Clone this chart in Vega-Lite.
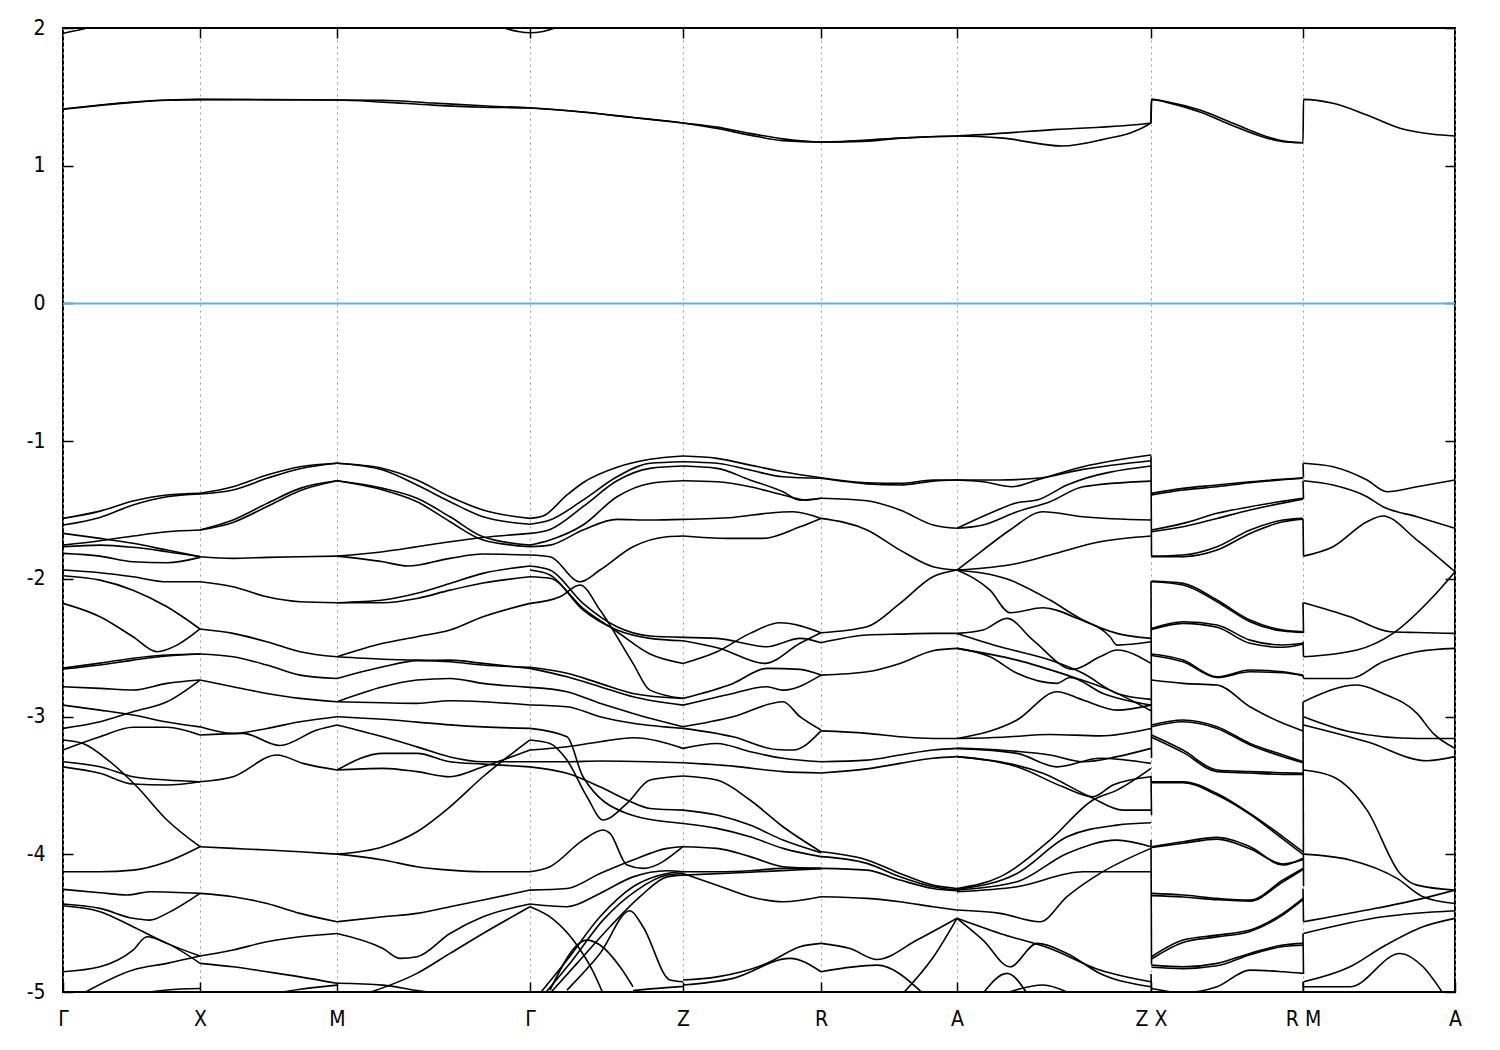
{
"$schema": "https://vega.github.io/schema/vega-lite/v6.json",
"width": 1392, "height": 964,
"autosize": {"type": "none"},
"padding": {"left": 63, "top": 28, "right": 45, "bottom": 58},
"background": "white",
"config": {"view": {"stroke": "black", "strokeWidth": 2}},
"datasets": {
"bands": [
{"b":"c1","k":0,"e":1.412},{"b":"c1","k":37,"e":1.441},{"b":"c1","k":70,"e":1.463},{"b":"c1","k":104,"e":1.477},{"b":"c1","k":137,"e":1.482},{"b":"c1","k":204,"e":1.48},{"b":"c1","k":274,"e":1.477},{"b":"c1","k":320,"e":1.475},{"b":"c1","k":370,"e":1.455},{"b":"c1","k":420,"e":1.435},{"b":"c1","k":467,"e":1.419},{"b":"c1","k":520,"e":1.39},{"b":"c1","k":570,"e":1.35},{"b":"c1","k":620,"e":1.31},{"b":"c1","k":654,"e":1.28},{"b":"c1","k":687,"e":1.235},{"b":"c1","k":720,"e":1.195},{"b":"c1","k":758,"e":1.172},{"b":"c1","k":800,"e":1.177},{"b":"c1","k":837,"e":1.2},{"b":"c1","k":894,"e":1.216},{"b":"c1","k":990,"e":1.262},{"b":"c1","k":1088,"e":1.31},{"b":"c1","k":1088.5,"e":1.482},{"b":"c1","k":1104,"e":1.465},{"b":"c1","k":1137,"e":1.404},{"b":"c1","k":1170,"e":1.308},{"b":"c1","k":1204,"e":1.211},{"b":"c1","k":1224,"e":1.175},{"b":"c1","k":1240,"e":1.167},{"b":"c1","k":1240.5,"e":1.482},{"b":"c1","k":1270,"e":1.453},{"b":"c1","k":1304,"e":1.368},{"b":"c1","k":1337,"e":1.272},{"b":"c1","k":1370,"e":1.228},{"b":"c1","k":1392,"e":1.216},
{"b":"c2","k":0,"e":1.41},{"b":"c2","k":37,"e":1.438},{"b":"c2","k":70,"e":1.46},{"b":"c2","k":104,"e":1.475},{"b":"c2","k":137,"e":1.48},{"b":"c2","k":274,"e":1.477},{"b":"c2","k":320,"e":1.462},{"b":"c2","k":370,"e":1.44},{"b":"c2","k":420,"e":1.425},{"b":"c2","k":467,"e":1.419},{"b":"c2","k":570,"e":1.35},{"b":"c2","k":620,"e":1.31},{"b":"c2","k":654,"e":1.27},{"b":"c2","k":687,"e":1.222},{"b":"c2","k":720,"e":1.182},{"b":"c2","k":758,"e":1.172},{"b":"c2","k":837,"e":1.2},{"b":"c2","k":894,"e":1.216},{"b":"c2","k":940,"e":1.2},{"b":"c2","k":999,"e":1.143},{"b":"c2","k":1037,"e":1.186},{"b":"c2","k":1088,"e":1.31},{"b":"c2","k":1088.5,"e":1.482},{"b":"c2","k":1104,"e":1.46},{"b":"c2","k":1137,"e":1.39},{"b":"c2","k":1170,"e":1.29},{"b":"c2","k":1204,"e":1.2},{"b":"c2","k":1224,"e":1.172},{"b":"c2","k":1240,"e":1.167},
{"b":"c3","k":0,"e":1.962},{"b":"c3","k":12,"e":1.98},{"b":"c3","k":24,"e":2.0},{"b":"c3","k":40,"e":2.04},
{"b":"c4","k":430,"e":2.05},{"b":"c4","k":442,"e":2.0},{"b":"c4","k":455,"e":1.975},{"b":"c4","k":467,"e":1.965},{"b":"c4","k":480,"e":1.975},{"b":"c4","k":492,"e":2.0},{"b":"c4","k":505,"e":2.04},

{"b":"1a","k":0,"e":-1.561},{"b":"1a","k":37,"e":-1.508},{"b":"1a","k":70,"e":-1.435},{"b":"1a","k":104,"e":-1.391},{"b":"1a","k":137,"e":-1.379},
{"b":"1b","k":0,"e":-1.609},{"b":"1b","k":37,"e":-1.554},{"b":"1b","k":70,"e":-1.464},{"b":"1b","k":104,"e":-1.404},{"b":"1b","k":137,"e":-1.384},
{"b":"1c","k":0,"e":-1.755},{"b":"1c","k":37,"e":-1.723},{"b":"1c","k":70,"e":-1.689},{"b":"1c","k":104,"e":-1.658},{"b":"1c","k":137,"e":-1.645},
{"b":"1d","k":0,"e":-1.67},{"b":"1d","k":37,"e":-1.706},{"b":"1d","k":70,"e":-1.742},{"b":"1d","k":104,"e":-1.791},{"b":"1d","k":137,"e":-1.839},
{"b":"1e","k":0,"e":-1.767},{"b":"1e","k":37,"e":-1.755},{"b":"1e","k":70,"e":-1.771},{"b":"1e","k":104,"e":-1.803},{"b":"1e","k":137,"e":-1.839},
{"b":"1f","k":0,"e":-1.815},{"b":"1f","k":37,"e":-1.835},{"b":"1f","k":70,"e":-1.876},{"b":"1f","k":104,"e":-1.883},{"b":"1f","k":137,"e":-1.844},
{"b":"1g","k":0,"e":-1.936},{"b":"1g","k":37,"e":-1.956},{"b":"1g","k":70,"e":-1.985},{"b":"1g","k":104,"e":-2.021},{"b":"1g","k":137,"e":-2.021},
{"b":"1h","k":0,"e":-1.977},{"b":"1h","k":37,"e":-2.009},{"b":"1h","k":70,"e":-2.082},{"b":"1h","k":104,"e":-2.203},{"b":"1h","k":137,"e":-2.364},
{"b":"1i","k":0,"e":-2.178},{"b":"1i","k":37,"e":-2.275},{"b":"1i","k":70,"e":-2.42},{"b":"1i","k":94,"e":-2.529},{"b":"1i","k":114,"e":-2.481},{"b":"1i","k":137,"e":-2.364},
{"b":"1j","k":0,"e":-2.648},{"b":"1j","k":37,"e":-2.612},{"b":"1j","k":70,"e":-2.576},{"b":"1j","k":104,"e":-2.553},{"b":"1j","k":137,"e":-2.546},
{"b":"1k","k":0,"e":-2.655},{"b":"1k","k":37,"e":-2.625},{"b":"1k","k":70,"e":-2.59},{"b":"1k","k":104,"e":-2.56},{"b":"1k","k":137,"e":-2.546},
{"b":"1l","k":0,"e":-2.783},{"b":"1l","k":37,"e":-2.795},{"b":"1l","k":70,"e":-2.807},{"b":"1l","k":104,"e":-2.759},{"b":"1l","k":137,"e":-2.735},
{"b":"1m","k":0,"e":-2.917},{"b":"1m","k":37,"e":-2.953},{"b":"1m","k":70,"e":-2.989},{"b":"1m","k":104,"e":-3.04},{"b":"1m","k":137,"e":-3.075},
{"b":"1n","k":0,"e":-3.086},{"b":"1n","k":37,"e":-3.038},{"b":"1n","k":70,"e":-2.965},{"b":"1n","k":104,"e":-2.893},{"b":"1n","k":137,"e":-2.735},
{"b":"1o","k":0,"e":-3.17},{"b":"1o","k":20,"e":-3.195},{"b":"1o","k":47,"e":-3.328},{"b":"1o","k":74,"e":-3.51},{"b":"1o","k":104,"e":-3.751},{"b":"1o","k":137,"e":-3.945},
{"b":"1p","k":0,"e":-3.243},{"b":"1p","k":37,"e":-3.147},{"b":"1p","k":70,"e":-3.078},{"b":"1p","k":104,"e":-3.078},{"b":"1p","k":137,"e":-3.134},
{"b":"1q","k":0,"e":-3.328},{"b":"1q","k":37,"e":-3.365},{"b":"1q","k":70,"e":-3.437},{"b":"1q","k":104,"e":-3.461},{"b":"1q","k":137,"e":-3.473},
{"b":"1r","k":0,"e":-3.365},{"b":"1r","k":37,"e":-3.412},{"b":"1r","k":70,"e":-3.49},{"b":"1r","k":104,"e":-3.497},{"b":"1r","k":137,"e":-3.473},
{"b":"1s","k":0,"e":-4.127},{"b":"1s","k":37,"e":-4.127},{"b":"1s","k":70,"e":-4.115},{"b":"1s","k":104,"e":-4.054},{"b":"1s","k":137,"e":-3.945},
{"b":"1t","k":0,"e":-4.255},{"b":"1t","k":37,"e":-4.279},{"b":"1t","k":64,"e":-4.296},{"b":"1t","k":87,"e":-4.272},{"b":"1t","k":137,"e":-4.284},
{"b":"1u","k":0,"e":-4.361},{"b":"1u","k":37,"e":-4.393},{"b":"1u","k":70,"e":-4.465},{"b":"1u","k":87,"e":-4.478},{"b":"1u","k":104,"e":-4.429},{"b":"1u","k":137,"e":-4.284},
{"b":"1v","k":0,"e":-4.374},{"b":"1v","k":37,"e":-4.417},{"b":"1v","k":70,"e":-4.526},{"b":"1v","k":104,"e":-4.647},{"b":"1v","k":137,"e":-4.739},
{"b":"1w","k":0,"e":-4.853},{"b":"1w","k":37,"e":-4.817},{"b":"1w","k":70,"e":-4.696},{"b":"1w","k":84,"e":-4.599},{"b":"1w","k":104,"e":-4.647},{"b":"1w","k":137,"e":-4.792},
{"b":"1x","k":20,"e":-5.01},{"b":"1x","k":70,"e":-4.84},{"b":"1x","k":104,"e":-4.792},{"b":"1x","k":137,"e":-4.739},
{"b":"1y","k":70,"e":-5.02},{"b":"1y","k":104,"e":-4.985},{"b":"1y","k":137,"e":-4.975},

{"b":"2a","k":137,"e":-1.379},{"b":"2a","k":170,"e":-1.331},{"b":"2a","k":204,"e":-1.246},{"b":"2a","k":237,"e":-1.186},{"b":"2a","k":274,"e":-1.161},
{"b":"2a2","k":137,"e":-1.384},{"b":"2a2","k":170,"e":-1.355},{"b":"2a2","k":204,"e":-1.27},{"b":"2a2","k":237,"e":-1.2},{"b":"2a2","k":274,"e":-1.161},
{"b":"2b","k":137,"e":-1.645},{"b":"2b","k":170,"e":-1.573},{"b":"2b","k":204,"e":-1.452},{"b":"2b","k":237,"e":-1.343},{"b":"2b","k":274,"e":-1.288},
{"b":"2b2","k":137,"e":-1.645},{"b":"2b2","k":170,"e":-1.59},{"b":"2b2","k":204,"e":-1.475},{"b":"2b2","k":237,"e":-1.36},{"b":"2b2","k":274,"e":-1.288},
{"b":"2c","k":137,"e":-1.839},{"b":"2c","k":170,"e":-1.851},{"b":"2c","k":204,"e":-1.844},{"b":"2c","k":237,"e":-1.839},{"b":"2c","k":274,"e":-1.835},
{"b":"2d","k":137,"e":-2.021},{"b":"2d","k":170,"e":-2.057},{"b":"2d","k":204,"e":-2.13},{"b":"2d","k":237,"e":-2.166},{"b":"2d","k":274,"e":-2.173},
{"b":"2e","k":137,"e":-2.364},{"b":"2e","k":170,"e":-2.396},{"b":"2e","k":204,"e":-2.457},{"b":"2e","k":237,"e":-2.529},{"b":"2e","k":274,"e":-2.566},
{"b":"2f","k":137,"e":-2.546},{"b":"2f","k":170,"e":-2.566},{"b":"2f","k":204,"e":-2.626},{"b":"2f","k":237,"e":-2.699},{"b":"2f","k":274,"e":-2.723},
{"b":"2g","k":137,"e":-2.735},{"b":"2g","k":170,"e":-2.783},{"b":"2g","k":204,"e":-2.832},{"b":"2g","k":237,"e":-2.868},{"b":"2g","k":274,"e":-2.892},
{"b":"2h","k":137,"e":-3.074},{"b":"2h","k":170,"e":-3.122},{"b":"2h","k":204,"e":-3.086},{"b":"2h","k":237,"e":-3.038},{"b":"2h","k":274,"e":-3.001},
{"b":"2i","k":137,"e":-3.134},{"b":"2i","k":180,"e":-3.122},{"b":"2i","k":217,"e":-3.21},{"b":"2i","k":254,"e":-3.097},{"b":"2i","k":274,"e":-3.061},
{"b":"2j","k":137,"e":-3.473},{"b":"2j","k":170,"e":-3.437},{"b":"2j","k":214,"e":-3.279},{"b":"2j","k":240,"e":-3.34},{"b":"2j","k":274,"e":-3.388},
{"b":"2k","k":137,"e":-3.945},{"b":"2k","k":170,"e":-3.957},{"b":"2k","k":204,"e":-3.969},{"b":"2k","k":237,"e":-3.982},{"b":"2k","k":274,"e":-3.999},
{"b":"2l","k":137,"e":-4.284},{"b":"2l","k":170,"e":-4.308},{"b":"2l","k":204,"e":-4.357},{"b":"2l","k":237,"e":-4.429},{"b":"2l","k":274,"e":-4.49},
{"b":"2m","k":137,"e":-4.739},{"b":"2m","k":170,"e":-4.695},{"b":"2m","k":204,"e":-4.635},{"b":"2m","k":237,"e":-4.599},{"b":"2m","k":274,"e":-4.575},
{"b":"2n","k":137,"e":-4.792},{"b":"2n","k":170,"e":-4.817},{"b":"2n","k":204,"e":-4.853},{"b":"2n","k":237,"e":-4.89},{"b":"2n","k":274,"e":-4.937},
{"b":"2o","k":204,"e":-5.02},{"b":"2o","k":237,"e":-4.98},{"b":"2o","k":274,"e":-4.95},

{"b":"3a","k":274,"e":-1.161},{"b":"3a","k":320,"e":-1.198},{"b":"3a","k":354,"e":-1.282},{"b":"3a","k":387,"e":-1.404},{"b":"3a","k":420,"e":-1.5},{"b":"3a","k":467,"e":-1.561},
{"b":"3b","k":274,"e":-1.161},{"b":"3b","k":320,"e":-1.21},{"b":"3b","k":354,"e":-1.319},{"b":"3b","k":387,"e":-1.44},{"b":"3b","k":420,"e":-1.549},{"b":"3b","k":467,"e":-1.604},
{"b":"3c","k":274,"e":-1.288},{"b":"3c","k":320,"e":-1.343},{"b":"3c","k":354,"e":-1.415},{"b":"3c","k":387,"e":-1.549},{"b":"3c","k":420,"e":-1.694},{"b":"3c","k":467,"e":-1.755},
{"b":"3d","k":274,"e":-1.288},{"b":"3d","k":320,"e":-1.355},{"b":"3d","k":354,"e":-1.44},{"b":"3d","k":387,"e":-1.585},{"b":"3d","k":420,"e":-1.718},{"b":"3d","k":467,"e":-1.767},
{"b":"3e","k":274,"e":-1.835},{"b":"3e","k":320,"e":-1.876},{"b":"3e","k":345,"e":-1.907},{"b":"3e","k":387,"e":-1.851},{"b":"3e","k":420,"e":-1.82},{"b":"3e","k":467,"e":-1.827},
{"b":"3f","k":274,"e":-1.835},{"b":"3f","k":320,"e":-1.803},{"b":"3f","k":354,"e":-1.767},{"b":"3f","k":387,"e":-1.731},{"b":"3f","k":420,"e":-1.7},{"b":"3f","k":467,"e":-1.67},
{"b":"3g","k":274,"e":-2.173},{"b":"3g","k":320,"e":-2.154},{"b":"3g","k":354,"e":-2.105},{"b":"3g","k":387,"e":-2.033},{"b":"3g","k":420,"e":-1.96},{"b":"3g","k":467,"e":-1.907},
{"b":"3h","k":274,"e":-2.173},{"b":"3h","k":320,"e":-2.173},{"b":"3h","k":354,"e":-2.142},{"b":"3h","k":387,"e":-2.082},{"b":"3h","k":420,"e":-2.03},{"b":"3h","k":467,"e":-1.985},
{"b":"3i","k":274,"e":-2.566},{"b":"3i","k":320,"e":-2.468},{"b":"3i","k":354,"e":-2.42},{"b":"3i","k":387,"e":-2.372},{"b":"3i","k":420,"e":-2.275},{"b":"3i","k":467,"e":-2.178},
{"b":"3j","k":274,"e":-2.566},{"b":"3j","k":320,"e":-2.584},{"b":"3j","k":354,"e":-2.59},{"b":"3j","k":387,"e":-2.602},{"b":"3j","k":420,"e":-2.626},{"b":"3j","k":467,"e":-2.642},
{"b":"3k","k":274,"e":-2.723},{"b":"3k","k":320,"e":-2.638},{"b":"3k","k":354,"e":-2.594},{"b":"3k","k":387,"e":-2.59},{"b":"3k","k":420,"e":-2.614},{"b":"3k","k":467,"e":-2.65},
{"b":"3l","k":274,"e":-2.892},{"b":"3l","k":320,"e":-2.783},{"b":"3l","k":354,"e":-2.735},{"b":"3l","k":387,"e":-2.723},{"b":"3l","k":420,"e":-2.759},{"b":"3l","k":467,"e":-2.788},
{"b":"3m","k":274,"e":-2.892},{"b":"3m","k":320,"e":-2.9},{"b":"3m","k":354,"e":-2.904},{"b":"3m","k":387,"e":-2.885},{"b":"3m","k":420,"e":-2.892},{"b":"3m","k":467,"e":-2.916},
{"b":"3n","k":274,"e":-3.001},{"b":"3n","k":320,"e":-3.02},{"b":"3n","k":354,"e":-3.04},{"b":"3n","k":387,"e":-3.06},{"b":"3n","k":420,"e":-3.075},{"b":"3n","k":467,"e":-3.086},
{"b":"3o","k":274,"e":-3.061},{"b":"3o","k":320,"e":-3.147},{"b":"3o","k":354,"e":-3.22},{"b":"3o","k":387,"e":-3.293},{"b":"3o","k":420,"e":-3.328},{"b":"3o","k":467,"e":-3.328},
{"b":"3p","k":274,"e":-3.388},{"b":"3p","k":320,"e":-3.267},{"b":"3p","k":354,"e":-3.267},{"b":"3p","k":387,"e":-3.328},{"b":"3p","k":420,"e":-3.345},{"b":"3p","k":467,"e":-3.365},
{"b":"3q","k":274,"e":-3.388},{"b":"3q","k":320,"e":-3.376},{"b":"3q","k":354,"e":-3.4},{"b":"3q","k":387,"e":-3.437},{"b":"3q","k":420,"e":-3.365},{"b":"3q","k":467,"e":-3.243},
{"b":"3r","k":274,"e":-3.999},{"b":"3r","k":320,"e":-3.945},{"b":"3r","k":354,"e":-3.836},{"b":"3r","k":387,"e":-3.655},{"b":"3r","k":420,"e":-3.437},{"b":"3r","k":467,"e":-3.17},
{"b":"3t","k":274,"e":-3.999},{"b":"3t","k":320,"e":-4.041},{"b":"3t","k":354,"e":-4.09},{"b":"3t","k":387,"e":-4.115},{"b":"3t","k":420,"e":-4.127},{"b":"3t","k":467,"e":-4.127},
{"b":"3u","k":274,"e":-4.49},{"b":"3u","k":320,"e":-4.454},{"b":"3u","k":354,"e":-4.429},{"b":"3u","k":387,"e":-4.381},{"b":"3u","k":420,"e":-4.332},{"b":"3u","k":467,"e":-4.26},
{"b":"3v","k":274,"e":-4.575},{"b":"3v","k":320,"e":-4.684},{"b":"3v","k":337,"e":-4.756},{"b":"3v","k":354,"e":-4.744},{"b":"3v","k":387,"e":-4.575},{"b":"3v","k":420,"e":-4.454},{"b":"3v","k":467,"e":-4.361},
{"b":"3w","k":304,"e":-5.01},{"b":"3w","k":354,"e":-4.865},{"b":"3w","k":387,"e":-4.72},{"b":"3w","k":420,"e":-4.575},{"b":"3w","k":467,"e":-4.381},
{"b":"3x","k":274,"e":-4.937},{"b":"3x","k":320,"e":-4.95},{"b":"3x","k":354,"e":-4.99},{"b":"3x","k":387,"e":-5.02},

{"b":"4a","k":467,"e":-1.561},{"b":"4a","k":480,"e":-1.544},{"b":"4a","k":504,"e":-1.391},{"b":"4a","k":520,"e":-1.302},{"b":"4a","k":554,"e":-1.19},{"b":"4a","k":587,"e":-1.132},{"b":"4a","k":620,"e":-1.108},
{"b":"4b","k":467,"e":-1.604},{"b":"4b","k":487,"e":-1.573},{"b":"4b","k":520,"e":-1.428},{"b":"4b","k":554,"e":-1.259},{"b":"4b","k":587,"e":-1.161},{"b":"4b","k":620,"e":-1.15},
{"b":"4c","k":467,"e":-1.67},{"b":"4c","k":487,"e":-1.641},{"b":"4c","k":520,"e":-1.476},{"b":"4c","k":554,"e":-1.288},{"b":"4c","k":587,"e":-1.198},{"b":"4c","k":620,"e":-1.181},
{"b":"4d","k":467,"e":-1.755},{"b":"4d","k":487,"e":-1.718},{"b":"4d","k":520,"e":-1.609},{"b":"4d","k":554,"e":-1.404},{"b":"4d","k":587,"e":-1.307},{"b":"4d","k":620,"e":-1.288},
{"b":"4e","k":467,"e":-1.767},{"b":"4e","k":487,"e":-1.755},{"b":"4e","k":520,"e":-1.645},{"b":"4e","k":554,"e":-1.568},{"b":"4e","k":587,"e":-1.573},{"b":"4e","k":620,"e":-1.568},
{"b":"4f","k":467,"e":-1.827},{"b":"4f","k":487,"e":-1.839},{"b":"4f","k":517,"e":-2.021},{"b":"4f","k":537,"e":-1.936},{"b":"4f","k":570,"e":-1.767},{"b":"4f","k":604,"e":-1.694},{"b":"4f","k":620,"e":-1.689},
{"b":"4g","k":467,"e":-1.907},{"b":"4g","k":487,"e":-1.936},{"b":"4g","k":520,"e":-2.178},{"b":"4g","k":554,"e":-2.348},{"b":"4g","k":587,"e":-2.415},{"b":"4g","k":620,"e":-2.425},
{"b":"4h","k":467,"e":-1.936},{"b":"4h","k":487,"e":-1.972},{"b":"4h","k":520,"e":-2.226},{"b":"4h","k":554,"e":-2.372},{"b":"4h","k":587,"e":-2.432},{"b":"4h","k":620,"e":-2.449},
{"b":"4i","k":467,"e":-1.985},{"b":"4i","k":487,"e":-1.996},{"b":"4i","k":520,"e":-2.214},{"b":"4i","k":554,"e":-2.384},{"b":"4i","k":587,"e":-2.546},{"b":"4i","k":620,"e":-2.614},
{"b":"4j","k":467,"e":-2.178},{"b":"4j","k":497,"e":-2.13},{"b":"4j","k":517,"e":-2.045},{"b":"4j","k":537,"e":-2.226},{"b":"4j","k":570,"e":-2.614},{"b":"4j","k":587,"e":-2.808},{"b":"4j","k":620,"e":-2.868},
{"b":"4k","k":467,"e":-2.642},{"b":"4k","k":504,"e":-2.686},{"b":"4k","k":537,"e":-2.759},{"b":"4k","k":570,"e":-2.832},{"b":"4k","k":620,"e":-2.868},
{"b":"4l","k":467,"e":-2.65},{"b":"4l","k":504,"e":-2.711},{"b":"4l","k":537,"e":-2.783},{"b":"4l","k":570,"e":-2.856},{"b":"4l","k":620,"e":-2.917},
{"b":"4m","k":467,"e":-2.788},{"b":"4m","k":504,"e":-2.82},{"b":"4m","k":537,"e":-2.904},{"b":"4m","k":570,"e":-2.977},{"b":"4m","k":620,"e":-3.074},
{"b":"4n","k":467,"e":-2.916},{"b":"4n","k":504,"e":-2.929},{"b":"4n","k":537,"e":-3.001},{"b":"4n","k":570,"e":-3.049},{"b":"4n","k":620,"e":-3.086},
{"b":"4o","k":467,"e":-3.17},{"b":"4o","k":487,"e":-3.195},{"b":"4o","k":504,"e":-3.316},{"b":"4o","k":524,"e":-3.582},{"b":"4o","k":540,"e":-3.751},{"b":"4o","k":564,"e":-3.63},{"b":"4o","k":587,"e":-3.461},{"b":"4o","k":620,"e":-3.432},
{"b":"4p","k":467,"e":-3.243},{"b":"4p","k":504,"e":-3.219},{"b":"4p","k":537,"e":-3.183},{"b":"4p","k":570,"e":-3.154},{"b":"4p","k":620,"e":-3.231},
{"b":"4q","k":467,"e":-3.328},{"b":"4q","k":504,"e":-3.328},{"b":"4q","k":537,"e":-3.323},{"b":"4q","k":587,"e":-3.328},{"b":"4q","k":620,"e":-3.335},
{"b":"4r","k":467,"e":-3.365},{"b":"4r","k":504,"e":-3.412},{"b":"4r","k":537,"e":-3.51},{"b":"4r","k":564,"e":-3.606},{"b":"4r","k":587,"e":-3.667},{"b":"4r","k":620,"e":-3.679},
{"b":"4s","k":467,"e":-3.086},{"b":"4s","k":504,"e":-3.147},{"b":"4s","k":520,"e":-3.437},{"b":"4s","k":564,"e":-3.703},{"b":"4s","k":620,"e":-3.776},
{"b":"4t","k":467,"e":-4.127},{"b":"4t","k":487,"e":-4.09},{"b":"4t","k":520,"e":-3.897},{"b":"4t","k":540,"e":-3.824},{"b":"4t","k":547,"e":-3.848},{"b":"4t","k":564,"e":-4.078},{"b":"4t","k":580,"e":-4.102},{"b":"4t","k":620,"e":-3.945},
{"b":"4u","k":467,"e":-4.26},{"b":"4u","k":504,"e":-4.248},{"b":"4u","k":537,"e":-4.139},{"b":"4u","k":570,"e":-4.041},{"b":"4u","k":604,"e":-3.957},{"b":"4u","k":620,"e":-3.945},
{"b":"4v","k":467,"e":-4.361},{"b":"4v","k":504,"e":-4.381},{"b":"4v","k":537,"e":-4.284},{"b":"4v","k":570,"e":-4.164},{"b":"4v","k":604,"e":-4.12},{"b":"4v","k":620,"e":-4.127},
{"b":"4w","k":477,"e":-5.01},{"b":"4w","k":504,"e":-4.768},{"b":"4w","k":537,"e":-4.454},{"b":"4w","k":570,"e":-4.236},{"b":"4w","k":604,"e":-4.139},{"b":"4w","k":620,"e":-4.127},
{"b":"4x","k":482,"e":-5.01},{"b":"4x","k":507,"e":-4.792},{"b":"4x","k":540,"e":-4.478},{"b":"4x","k":574,"e":-4.26},{"b":"4x","k":604,"e":-4.151},{"b":"4x","k":620,"e":-4.139},
{"b":"4y","k":487,"e":-5.01},{"b":"4y","k":514,"e":-4.792},{"b":"4y","k":547,"e":-4.526},{"b":"4y","k":577,"e":-4.308},{"b":"4y","k":604,"e":-4.164},{"b":"4y","k":620,"e":-4.151},
{"b":"4z","k":504,"e":-4.986},{"b":"4z","k":537,"e":-4.721},{"b":"4z","k":567,"e":-4.41},{"b":"4z","k":580,"e":-4.526},{"b":"4z","k":607,"e":-4.913},{"b":"4z","k":620,"e":-4.926},
{"b":"4aa","k":487,"e":-4.986},{"b":"4aa","k":524,"e":-4.623},{"b":"4aa","k":537,"e":-4.659},{"b":"4aa","k":557,"e":-4.817},{"b":"4aa","k":570,"e":-4.962},
{"b":"4ab","k":570,"e":-4.99},{"b":"4ab","k":600,"e":-4.97},{"b":"4ab","k":620,"e":-4.96},
{"b":"4ac","k":467,"e":-4.381},{"b":"4ac","k":490,"e":-4.47},{"b":"4ac","k":510,"e":-4.62},{"b":"4ac","k":530,"e":-4.85},{"b":"4ac","k":540,"e":-5.01},

{"b":"5a","k":620,"e":-1.108},{"b":"5a","k":654,"e":-1.125},{"b":"5a","k":687,"e":-1.174},{"b":"5a","k":720,"e":-1.222},{"b":"5a","k":758,"e":-1.266},
{"b":"5b","k":620,"e":-1.15},{"b":"5b","k":654,"e":-1.161},{"b":"5b","k":687,"e":-1.21},{"b":"5b","k":720,"e":-1.259},{"b":"5b","k":758,"e":-1.27},
{"b":"5c","k":620,"e":-1.181},{"b":"5c","k":654,"e":-1.198},{"b":"5c","k":687,"e":-1.282},{"b":"5c","k":720,"e":-1.367},{"b":"5c","k":737,"e":-1.428},{"b":"5c","k":758,"e":-1.415},
{"b":"5d","k":620,"e":-1.288},{"b":"5d","k":654,"e":-1.295},{"b":"5d","k":687,"e":-1.331},{"b":"5d","k":720,"e":-1.391},{"b":"5d","k":744,"e":-1.428},{"b":"5d","k":758,"e":-1.415},
{"b":"5e","k":620,"e":-1.568},{"b":"5e","k":670,"e":-1.554},{"b":"5e","k":704,"e":-1.524},{"b":"5e","k":730,"e":-1.513},{"b":"5e","k":758,"e":-1.561},
{"b":"5f","k":620,"e":-1.689},{"b":"5f","k":664,"e":-1.706},{"b":"5f","k":700,"e":-1.706},{"b":"5f","k":737,"e":-1.622},{"b":"5f","k":758,"e":-1.561},
{"b":"5g","k":620,"e":-2.425},{"b":"5g","k":654,"e":-2.432},{"b":"5g","k":704,"e":-2.493},{"b":"5g","k":737,"e":-2.432},{"b":"5g","k":758,"e":-2.464},
{"b":"5h","k":620,"e":-2.449},{"b":"5h","k":657,"e":-2.505},{"b":"5h","k":702,"e":-2.614},{"b":"5h","k":737,"e":-2.468},{"b":"5h","k":758,"e":-2.391},
{"b":"5i","k":620,"e":-2.614},{"b":"5i","k":654,"e":-2.529},{"b":"5i","k":687,"e":-2.396},{"b":"5i","k":717,"e":-2.319},{"b":"5i","k":758,"e":-2.391},
{"b":"5j","k":620,"e":-2.868},{"b":"5j","k":670,"e":-2.759},{"b":"5j","k":704,"e":-2.65},{"b":"5j","k":737,"e":-2.657},{"b":"5j","k":758,"e":-2.699},
{"b":"5k","k":620,"e":-2.917},{"b":"5k","k":670,"e":-2.832},{"b":"5k","k":704,"e":-2.783},{"b":"5k","k":720,"e":-2.808},{"b":"5k","k":758,"e":-2.699},
{"b":"5l","k":620,"e":-3.074},{"b":"5l","k":670,"e":-3.001},{"b":"5l","k":720,"e":-2.892},{"b":"5l","k":737,"e":-3.001},{"b":"5l","k":758,"e":-3.097},
{"b":"5m","k":620,"e":-3.086},{"b":"5m","k":670,"e":-3.147},{"b":"5m","k":713,"e":-3.239},{"b":"5m","k":730,"e":-3.243},{"b":"5m","k":758,"e":-3.104},
{"b":"5n","k":620,"e":-3.231},{"b":"5n","k":654,"e":-3.195},{"b":"5n","k":687,"e":-3.255},{"b":"5n","k":720,"e":-3.303},{"b":"5n","k":758,"e":-3.328},
{"b":"5w","k":620,"e":-3.335},{"b":"5w","k":670,"e":-3.36},{"b":"5w","k":720,"e":-3.4},{"b":"5w","k":758,"e":-3.41},
{"b":"5o","k":620,"e":-3.432},{"b":"5o","k":654,"e":-3.461},{"b":"5o","k":687,"e":-3.606},{"b":"5o","k":720,"e":-3.8},{"b":"5o","k":758,"e":-3.982},
{"b":"5p","k":620,"e":-3.679},{"b":"5p","k":654,"e":-3.715},{"b":"5p","k":687,"e":-3.788},{"b":"5p","k":720,"e":-3.897},{"b":"5p","k":758,"e":-3.989},
{"b":"5q","k":620,"e":-3.776},{"b":"5q","k":654,"e":-3.812},{"b":"5q","k":687,"e":-3.873},{"b":"5q","k":720,"e":-3.957},{"b":"5q","k":758,"e":-4.017},
{"b":"5r","k":620,"e":-3.945},{"b":"5r","k":654,"e":-3.957},{"b":"5r","k":687,"e":-4.017},{"b":"5r","k":720,"e":-4.09},{"b":"5r","k":758,"e":-4.102},
{"b":"5s","k":620,"e":-4.127},{"b":"5s","k":654,"e":-4.127},{"b":"5s","k":687,"e":-4.12},{"b":"5s","k":720,"e":-4.102},{"b":"5s","k":758,"e":-4.102},
{"b":"5x","k":620,"e":-4.151},{"b":"5x","k":687,"e":-4.13},{"b":"5x","k":758,"e":-4.105},
{"b":"5t","k":620,"e":-4.139},{"b":"5t","k":654,"e":-4.224},{"b":"5t","k":687,"e":-4.308},{"b":"5t","k":720,"e":-4.345},{"b":"5t","k":758,"e":-4.308},
{"b":"5u","k":620,"e":-4.913},{"b":"5u","k":654,"e":-4.89},{"b":"5u","k":704,"e":-4.792},{"b":"5u","k":737,"e":-4.671},{"b":"5u","k":758,"e":-4.647},
{"b":"5v","k":620,"e":-4.949},{"b":"5v","k":670,"e":-4.901},{"b":"5v","k":727,"e":-4.756},{"b":"5v","k":758,"e":-4.853},

{"b":"6a","k":758,"e":-1.266},{"b":"6a","k":804,"e":-1.302},{"b":"6a","k":837,"e":-1.307},{"b":"6a","k":870,"e":-1.282},{"b":"6a","k":894,"e":-1.282},
{"b":"6a2","k":758,"e":-1.27},{"b":"6a2","k":804,"e":-1.31},{"b":"6a2","k":837,"e":-1.318},{"b":"6a2","k":870,"e":-1.29},{"b":"6a2","k":894,"e":-1.282},
{"b":"6b","k":758,"e":-1.415},{"b":"6b","k":804,"e":-1.433},{"b":"6b","k":837,"e":-1.5},{"b":"6b","k":870,"e":-1.609},{"b":"6b","k":894,"e":-1.633},
{"b":"6c","k":758,"e":-1.561},{"b":"6c","k":804,"e":-1.645},{"b":"6c","k":837,"e":-1.791},{"b":"6c","k":870,"e":-1.912},{"b":"6c","k":894,"e":-1.936},
{"b":"6d","k":758,"e":-2.391},{"b":"6d","k":804,"e":-2.348},{"b":"6d","k":837,"e":-2.178},{"b":"6d","k":870,"e":-1.985},{"b":"6d","k":894,"e":-1.936},
{"b":"6e","k":758,"e":-2.464},{"b":"6e","k":804,"e":-2.408},{"b":"6e","k":837,"e":-2.401},{"b":"6e","k":870,"e":-2.396},{"b":"6e","k":894,"e":-2.396},
{"b":"6f","k":758,"e":-2.699},{"b":"6f","k":804,"e":-2.675},{"b":"6f","k":837,"e":-2.614},{"b":"6f","k":870,"e":-2.522},{"b":"6f","k":894,"e":-2.505},
{"b":"6g","k":758,"e":-3.104},{"b":"6g","k":804,"e":-3.122},{"b":"6g","k":837,"e":-3.147},{"b":"6g","k":870,"e":-3.159},{"b":"6g","k":894,"e":-3.159},
{"b":"6h","k":758,"e":-3.328},{"b":"6h","k":804,"e":-3.316},{"b":"6h","k":837,"e":-3.279},{"b":"6h","k":870,"e":-3.243},{"b":"6h","k":894,"e":-3.231},
{"b":"6i","k":758,"e":-3.41},{"b":"6i","k":804,"e":-3.38},{"b":"6i","k":837,"e":-3.34},{"b":"6i","k":870,"e":-3.303},{"b":"6i","k":894,"e":-3.291},
{"b":"6j","k":758,"e":-3.982},{"b":"6j","k":804,"e":-4.041},{"b":"6j","k":837,"e":-4.139},{"b":"6j","k":870,"e":-4.224},{"b":"6j","k":894,"e":-4.248},
{"b":"6k","k":758,"e":-4.017},{"b":"6k","k":804,"e":-4.066},{"b":"6k","k":837,"e":-4.164},{"b":"6k","k":870,"e":-4.236},{"b":"6k","k":894,"e":-4.26},
{"b":"6l","k":758,"e":-4.102},{"b":"6l","k":804,"e":-4.115},{"b":"6l","k":837,"e":-4.187},{"b":"6l","k":870,"e":-4.248},{"b":"6l","k":894,"e":-4.265},
{"b":"6m","k":758,"e":-4.308},{"b":"6m","k":804,"e":-4.32},{"b":"6m","k":837,"e":-4.345},{"b":"6m","k":870,"e":-4.381},{"b":"6m","k":894,"e":-4.405},
{"b":"6n","k":758,"e":-4.647},{"b":"6n","k":787,"e":-4.684},{"b":"6n","k":814,"e":-4.764},{"b":"6n","k":854,"e":-4.623},{"b":"6n","k":894,"e":-4.465},
{"b":"6o","k":758,"e":-4.853},{"b":"6o","k":814,"e":-4.805},{"b":"6o","k":860,"e":-5.01},
{"b":"6p","k":840,"e":-5.01},{"b":"6p","k":870,"e":-4.75},{"b":"6p","k":894,"e":-4.465},

{"b":"7a","k":894,"e":-1.282},{"b":"7a","k":920,"e":-1.295},{"b":"7a","k":949,"e":-1.331},{"b":"7a","k":974,"e":-1.282},{"b":"7a","k":1020,"e":-1.186},{"b":"7a","k":1088,"e":-1.101},
{"b":"7b","k":894,"e":-1.282},{"b":"7b","k":937,"e":-1.282},{"b":"7b","k":974,"e":-1.27},{"b":"7b","k":1020,"e":-1.205},{"b":"7b","k":1088,"e":-1.142},
{"b":"7c","k":894,"e":-1.633},{"b":"7c","k":927,"e":-1.524},{"b":"7c","k":954,"e":-1.447},{"b":"7c","k":974,"e":-1.428},{"b":"7c","k":1004,"e":-1.319},{"b":"7c","k":1088,"e":-1.181},
{"b":"7d","k":894,"e":-1.633},{"b":"7d","k":920,"e":-1.609},{"b":"7d","k":954,"e":-1.513},{"b":"7d","k":987,"e":-1.44},{"b":"7d","k":1020,"e":-1.331},{"b":"7d","k":1088,"e":-1.29},
{"b":"7e","k":894,"e":-1.936},{"b":"7e","k":920,"e":-1.791},{"b":"7e","k":947,"e":-1.645},{"b":"7e","k":980,"e":-1.513},{"b":"7e","k":1020,"e":-1.549},{"b":"7e","k":1088,"e":-1.573},
{"b":"7f","k":894,"e":-1.936},{"b":"7f","k":954,"e":-1.888},{"b":"7f","k":987,"e":-1.827},{"b":"7f","k":1037,"e":-1.731},{"b":"7f","k":1088,"e":-1.689},
{"b":"7g","k":894,"e":-1.936},{"b":"7g","k":927,"e":-2.082},{"b":"7g","k":947,"e":-2.246},{"b":"7g","k":980,"e":-2.21},{"b":"7g","k":1014,"e":-2.287},{"b":"7g","k":1047,"e":-2.42},{"b":"7g","k":1054,"e":-2.481},{"b":"7g","k":1088,"e":-2.457},
{"b":"7h","k":894,"e":-1.936},{"b":"7h","k":947,"e":-2.009},{"b":"7h","k":987,"e":-2.154},{"b":"7h","k":1020,"e":-2.299},{"b":"7h","k":1054,"e":-2.396},{"b":"7h","k":1088,"e":-2.432},
{"b":"7i","k":894,"e":-2.396},{"b":"7i","k":920,"e":-2.372},{"b":"7i","k":944,"e":-2.287},{"b":"7i","k":970,"e":-2.445},{"b":"7i","k":1010,"e":-2.657},{"b":"7i","k":1037,"e":-2.566},{"b":"7i","k":1054,"e":-2.517},{"b":"7i","k":1088,"e":-2.614},
{"b":"7j","k":894,"e":-2.396},{"b":"7j","k":937,"e":-2.493},{"b":"7j","k":987,"e":-2.59},{"b":"7j","k":1020,"e":-2.686},{"b":"7j","k":1054,"e":-2.832},{"b":"7j","k":1088,"e":-2.875},
{"b":"7k","k":894,"e":-2.505},{"b":"7k","k":927,"e":-2.566},{"b":"7k","k":954,"e":-2.686},{"b":"7k","k":994,"e":-2.759},{"b":"7k","k":1007,"e":-2.716},{"b":"7k","k":1040,"e":-2.832},{"b":"7k","k":1088,"e":-2.917},
{"b":"7l","k":894,"e":-2.505},{"b":"7l","k":954,"e":-2.59},{"b":"7l","k":1004,"e":-2.699},{"b":"7l","k":1047,"e":-2.808},{"b":"7l","k":1088,"e":-2.958},
{"b":"7m","k":894,"e":-3.159},{"b":"7m","k":954,"e":-3.025},{"b":"7m","k":994,"e":-2.82},{"b":"7m","k":1020,"e":-2.88},{"b":"7m","k":1054,"e":-2.953},{"b":"7m","k":1088,"e":-2.917},
{"b":"7aa","k":894,"e":-3.159},{"b":"7aa","k":940,"e":-3.15},{"b":"7aa","k":987,"e":-3.13},{"b":"7aa","k":1037,"e":-3.14},{"b":"7aa","k":1088,"e":-3.086},
{"b":"7n","k":894,"e":-3.231},{"b":"7n","k":937,"e":-3.243},{"b":"7n","k":987,"e":-3.279},{"b":"7n","k":1020,"e":-3.328},{"b":"7n","k":1054,"e":-3.291},{"b":"7n","k":1088,"e":-3.231},
{"b":"7o","k":894,"e":-3.231},{"b":"7o","k":954,"e":-3.267},{"b":"7o","k":994,"e":-3.365},{"b":"7o","k":1037,"e":-3.303},{"b":"7o","k":1088,"e":-3.34},
{"b":"7p","k":894,"e":-3.291},{"b":"7p","k":980,"e":-3.412},{"b":"7p","k":1027,"e":-3.582},{"b":"7p","k":1060,"e":-3.679},{"b":"7p","k":1088,"e":-3.679},
{"b":"7q","k":894,"e":-3.291},{"b":"7q","k":954,"e":-3.365},{"b":"7q","k":1000,"e":-3.51},{"b":"7q","k":1030,"e":-3.582},{"b":"7q","k":1050,"e":-3.497},{"b":"7q","k":1088,"e":-3.437},
{"b":"7r","k":894,"e":-4.248},{"b":"7r","k":937,"e":-4.164},{"b":"7r","k":987,"e":-3.897},{"b":"7r","k":1030,"e":-3.606},{"b":"7r","k":1054,"e":-3.534},{"b":"7r","k":1088,"e":-3.376},
{"b":"7s","k":894,"e":-4.255},{"b":"7s","k":954,"e":-4.139},{"b":"7s","k":1004,"e":-3.873},{"b":"7s","k":1054,"e":-3.788},{"b":"7s","k":1088,"e":-3.771},
{"b":"7t","k":894,"e":-4.26},{"b":"7t","k":954,"e":-4.2},{"b":"7t","k":1004,"e":-3.994},{"b":"7t","k":1054,"e":-3.897},{"b":"7t","k":1088,"e":-3.945},
{"b":"7u","k":894,"e":-4.272},{"b":"7u","k":954,"e":-4.236},{"b":"7u","k":1020,"e":-4.127},{"b":"7u","k":1088,"e":-4.127},
{"b":"7v","k":894,"e":-4.405},{"b":"7v","k":937,"e":-4.429},{"b":"7v","k":977,"e":-4.49},{"b":"7v","k":1004,"e":-4.308},{"b":"7v","k":1037,"e":-4.139},{"b":"7v","k":1088,"e":-3.957},
{"b":"7w","k":894,"e":-4.465},{"b":"7w","k":937,"e":-4.575},{"b":"7w","k":987,"e":-4.684},{"b":"7w","k":1037,"e":-4.841},{"b":"7w","k":1088,"e":-4.926},
{"b":"7x","k":894,"e":-4.465},{"b":"7x","k":920,"e":-4.623},{"b":"7x","k":947,"e":-4.817},{"b":"7x","k":974,"e":-4.647},{"b":"7x","k":1004,"e":-4.72},{"b":"7x","k":1037,"e":-4.865},{"b":"7x","k":1088,"e":-4.962},
{"b":"7y","k":920,"e":-5.01},{"b":"7y","k":944,"e":-4.865},{"b":"7y","k":964,"e":-5.01},
{"b":"7z","k":947,"e":-4.998},{"b":"7z","k":980,"e":-4.949},{"b":"7z","k":1007,"e":-5.01},

{"b":"jz1","k":1088,"e":-1.109},{"b":"jz1","k":1088.5,"e":-1.835},
{"b":"jz2","k":1088,"e":-2.017},{"b":"jz2","k":1088.5,"e":-3.3},
{"b":"jz3","k":1088,"e":-3.43},{"b":"jz3","k":1088.5,"e":-3.715},
{"b":"jz4","k":1088,"e":-3.897},{"b":"jz4","k":1088.5,"e":-4.8},
{"b":"jz5","k":1088,"e":-4.87},{"b":"jz5","k":1088.5,"e":-5.02},

{"b":"8a","k":1088.5,"e":-1.379},{"b":"8a","k":1120,"e":-1.343},{"b":"8a","k":1154,"e":-1.319},{"b":"8a","k":1187,"e":-1.295},{"b":"8a","k":1240,"e":-1.266},
{"b":"8b","k":1088.5,"e":-1.391},{"b":"8b","k":1120,"e":-1.355},{"b":"8b","k":1154,"e":-1.331},{"b":"8b","k":1187,"e":-1.302},{"b":"8b","k":1240,"e":-1.27},
{"b":"8c","k":1088.5,"e":-1.645},{"b":"8c","k":1120,"e":-1.597},{"b":"8c","k":1154,"e":-1.524},{"b":"8c","k":1187,"e":-1.476},{"b":"8c","k":1240,"e":-1.415},
{"b":"8d","k":1088.5,"e":-1.658},{"b":"8d","k":1120,"e":-1.622},{"b":"8d","k":1154,"e":-1.561},{"b":"8d","k":1187,"e":-1.5},{"b":"8d","k":1240,"e":-1.421},
{"b":"8e","k":1088.5,"e":-1.835},{"b":"8e","k":1120,"e":-1.827},{"b":"8e","k":1154,"e":-1.767},{"b":"8e","k":1187,"e":-1.645},{"b":"8e","k":1220,"e":-1.573},{"b":"8e","k":1240,"e":-1.561},
{"b":"8f","k":1088.5,"e":-1.84},{"b":"8f","k":1120,"e":-1.839},{"b":"8f","k":1154,"e":-1.791},{"b":"8f","k":1187,"e":-1.67},{"b":"8f","k":1220,"e":-1.585},{"b":"8f","k":1240,"e":-1.566},
{"b":"8g","k":1088.5,"e":-2.016},{"b":"8g","k":1120,"e":-2.033},{"b":"8g","k":1154,"e":-2.154},{"b":"8g","k":1187,"e":-2.299},{"b":"8g","k":1220,"e":-2.372},{"b":"8g","k":1240,"e":-2.384},
{"b":"8h","k":1088.5,"e":-2.021},{"b":"8h","k":1120,"e":-2.045},{"b":"8h","k":1154,"e":-2.166},{"b":"8h","k":1187,"e":-2.311},{"b":"8h","k":1220,"e":-2.379},{"b":"8h","k":1240,"e":-2.389},
{"b":"8i","k":1088.5,"e":-2.36},{"b":"8i","k":1120,"e":-2.311},{"b":"8i","k":1154,"e":-2.335},{"b":"8i","k":1187,"e":-2.445},{"b":"8i","k":1220,"e":-2.48},{"b":"8i","k":1240,"e":-2.468},
{"b":"8j","k":1088.5,"e":-2.367},{"b":"8j","k":1120,"e":-2.323},{"b":"8j","k":1154,"e":-2.352},{"b":"8j","k":1187,"e":-2.468},{"b":"8j","k":1220,"e":-2.497},{"b":"8j","k":1240,"e":-2.473},
{"b":"8k","k":1088.5,"e":-2.546},{"b":"8k","k":1120,"e":-2.59},{"b":"8k","k":1154,"e":-2.711},{"b":"8k","k":1187,"e":-2.662},{"b":"8k","k":1220,"e":-2.675},{"b":"8k","k":1240,"e":-2.699},
{"b":"8l","k":1088.5,"e":-2.556},{"b":"8l","k":1120,"e":-2.602},{"b":"8l","k":1154,"e":-2.716},{"b":"8l","k":1187,"e":-2.675},{"b":"8l","k":1220,"e":-2.682},{"b":"8l","k":1240,"e":-2.704},
{"b":"8m","k":1088.5,"e":-2.735},{"b":"8m","k":1120,"e":-2.759},{"b":"8m","k":1154,"e":-2.771},{"b":"8m","k":1187,"e":-2.929},{"b":"8m","k":1220,"e":-3.049},{"b":"8m","k":1240,"e":-3.104},
{"b":"8n","k":1088.5,"e":-3.061},{"b":"8n","k":1120,"e":-3.025},{"b":"8n","k":1154,"e":-3.074},{"b":"8n","k":1187,"e":-3.195},{"b":"8n","k":1220,"e":-3.279},{"b":"8n","k":1240,"e":-3.328},
{"b":"8o","k":1088.5,"e":-3.074},{"b":"8o","k":1120,"e":-3.038},{"b":"8o","k":1154,"e":-3.086},{"b":"8o","k":1187,"e":-3.206},{"b":"8o","k":1220,"e":-3.291},{"b":"8o","k":1240,"e":-3.335},
{"b":"8p","k":1088.5,"e":-3.134},{"b":"8p","k":1120,"e":-3.243},{"b":"8p","k":1154,"e":-3.388},{"b":"8p","k":1187,"e":-3.4},{"b":"8p","k":1220,"e":-3.408},{"b":"8p","k":1240,"e":-3.412},
{"b":"8q","k":1088.5,"e":-3.15},{"b":"8q","k":1120,"e":-3.26},{"b":"8q","k":1154,"e":-3.4},{"b":"8q","k":1187,"e":-3.41},{"b":"8q","k":1220,"e":-3.42},{"b":"8q","k":1240,"e":-3.42},
{"b":"8r","k":1088.5,"e":-3.473},{"b":"8r","k":1120,"e":-3.473},{"b":"8r","k":1154,"e":-3.558},{"b":"8r","k":1187,"e":-3.703},{"b":"8r","k":1220,"e":-3.873},{"b":"8r","k":1240,"e":-3.982},
{"b":"8s","k":1088.5,"e":-3.48},{"b":"8s","k":1120,"e":-3.48},{"b":"8s","k":1154,"e":-3.57},{"b":"8s","k":1187,"e":-3.71},{"b":"8s","k":1220,"e":-3.89},{"b":"8s","k":1240,"e":-4.0},
{"b":"8t","k":1088.5,"e":-3.945},{"b":"8t","k":1120,"e":-3.909},{"b":"8t","k":1154,"e":-3.877},{"b":"8t","k":1187,"e":-3.945},{"b":"8t","k":1220,"e":-4.078},{"b":"8t","k":1240,"e":-4.029},
{"b":"8u","k":1088.5,"e":-3.95},{"b":"8u","k":1120,"e":-3.92},{"b":"8u","k":1154,"e":-3.89},{"b":"8u","k":1187,"e":-3.96},{"b":"8u","k":1220,"e":-4.07},{"b":"8u","k":1240,"e":-4.04},
{"b":"8v","k":1088.5,"e":-4.284},{"b":"8v","k":1120,"e":-4.296},{"b":"8v","k":1154,"e":-4.32},{"b":"8v","k":1187,"e":-4.332},{"b":"8v","k":1220,"e":-4.187},{"b":"8v","k":1240,"e":-4.102},
{"b":"8w","k":1088.5,"e":-4.3},{"b":"8w","k":1120,"e":-4.31},{"b":"8w","k":1154,"e":-4.33},{"b":"8w","k":1187,"e":-4.34},{"b":"8w","k":1220,"e":-4.2},{"b":"8w","k":1240,"e":-4.11},
{"b":"8x","k":1088.5,"e":-4.744},{"b":"8x","k":1120,"e":-4.623},{"b":"8x","k":1154,"e":-4.587},{"b":"8x","k":1187,"e":-4.55},{"b":"8x","k":1220,"e":-4.429},{"b":"8x","k":1240,"e":-4.32},
{"b":"8y","k":1088.5,"e":-4.76},{"b":"8y","k":1120,"e":-4.64},{"b":"8y","k":1154,"e":-4.6},{"b":"8y","k":1187,"e":-4.56},{"b":"8y","k":1220,"e":-4.44},{"b":"8y","k":1240,"e":-4.33},
{"b":"8z","k":1088.5,"e":-4.805},{"b":"8z","k":1120,"e":-4.817},{"b":"8z","k":1154,"e":-4.792},{"b":"8z","k":1187,"e":-4.72},{"b":"8z","k":1220,"e":-4.659},{"b":"8z","k":1240,"e":-4.647},
{"b":"8aa","k":1088.5,"e":-4.82},{"b":"8aa","k":1120,"e":-4.83},{"b":"8aa","k":1154,"e":-4.81},{"b":"8aa","k":1187,"e":-4.73},{"b":"8aa","k":1220,"e":-4.67},{"b":"8aa","k":1240,"e":-4.66},
{"b":"8ab","k":1088.5,"e":-4.974},{"b":"8ab","k":1120,"e":-5.005},{"b":"8ab","k":1154,"e":-4.962},{"b":"8ab","k":1187,"e":-4.841},{"b":"8ab","k":1220,"e":-4.853},{"b":"8ab","k":1240,"e":-4.865},

{"b":"jr1","k":1240,"e":-1.161},{"b":"jr1","k":1240.5,"e":-1.264},
{"b":"jr2","k":1240,"e":-1.29},{"b":"jr2","k":1240.5,"e":-1.42},
{"b":"jr3","k":1240,"e":-1.563},{"b":"jr3","k":1240.5,"e":-1.835},
{"b":"jr4","k":1240,"e":-2.172},{"b":"jr4","k":1240.5,"e":-2.393},
{"b":"jr5","k":1240,"e":-2.457},{"b":"jr5","k":1240.5,"e":-2.566},
{"b":"jr6","k":1240,"e":-2.699},{"b":"jr6","k":1240.5,"e":-2.723},
{"b":"jr7","k":1240,"e":-2.892},{"b":"jr7","k":1240.5,"e":-4.23},
{"b":"jr8","k":1240,"e":-4.25},{"b":"jr8","k":1240.5,"e":-4.49},
{"b":"jr9","k":1240,"e":-4.575},{"b":"jr9","k":1240.5,"e":-4.87},
{"b":"jr10","k":1240,"e":-4.926},{"b":"jr10","k":1240.5,"e":-5.02},

{"b":"9a","k":1240.5,"e":-1.161},{"b":"9a","k":1270,"e":-1.186},{"b":"9a","k":1304,"e":-1.282},{"b":"9a","k":1324,"e":-1.367},{"b":"9a","k":1354,"e":-1.331},{"b":"9a","k":1392,"e":-1.282},
{"b":"9b","k":1240.5,"e":-1.288},{"b":"9b","k":1270,"e":-1.319},{"b":"9b","k":1304,"e":-1.404},{"b":"9b","k":1320,"e":-1.476},{"b":"9b","k":1354,"e":-1.549},{"b":"9b","k":1392,"e":-1.633},
{"b":"9c","k":1240.5,"e":-1.835},{"b":"9c","k":1270,"e":-1.767},{"b":"9c","k":1304,"e":-1.585},{"b":"9c","k":1320,"e":-1.544},{"b":"9c","k":1354,"e":-1.718},{"b":"9c","k":1392,"e":-1.948},
{"b":"9d","k":1240.5,"e":-2.173},{"b":"9d","k":1287,"e":-2.275},{"b":"9d","k":1327,"e":-2.384},{"b":"9d","k":1354,"e":-2.39},{"b":"9d","k":1392,"e":-2.396},
{"b":"9e","k":1240.5,"e":-2.566},{"b":"9e","k":1294,"e":-2.517},{"b":"9e","k":1330,"e":-2.396},{"b":"9e","k":1370,"e":-2.13},{"b":"9e","k":1392,"e":-1.948},
{"b":"9f","k":1240.5,"e":-2.723},{"b":"9f","k":1287,"e":-2.723},{"b":"9f","k":1320,"e":-2.602},{"b":"9f","k":1354,"e":-2.529},{"b":"9f","k":1392,"e":-2.505},
{"b":"9g","k":1240.5,"e":-2.892},{"b":"9g","k":1294,"e":-2.771},{"b":"9g","k":1320,"e":-2.832},{"b":"9g","k":1354,"e":-2.977},{"b":"9g","k":1370,"e":-3.12},{"b":"9g","k":1392,"e":-3.231},
{"b":"9h","k":1240.5,"e":-3.001},{"b":"9h","k":1287,"e":-3.11},{"b":"9h","k":1354,"e":-3.159},{"b":"9h","k":1392,"e":-3.159},
{"b":"9i","k":1240.5,"e":-3.061},{"b":"9i","k":1304,"e":-3.183},{"b":"9i","k":1364,"e":-3.321},{"b":"9i","k":1392,"e":-3.291},
{"b":"9j","k":1240.5,"e":-3.388},{"b":"9j","k":1270,"e":-3.437},{"b":"9j","k":1304,"e":-3.679},{"b":"9j","k":1337,"e":-4.139},{"b":"9j","k":1354,"e":-4.224},{"b":"9j","k":1392,"e":-4.26},
{"b":"9k","k":1240.5,"e":-3.999},{"b":"9k","k":1287,"e":-4.041},{"b":"9k","k":1334,"e":-4.175},{"b":"9k","k":1360,"e":-4.308},{"b":"9k","k":1392,"e":-4.357},
{"b":"9l","k":1240.5,"e":-4.49},{"b":"9l","k":1304,"e":-4.405},{"b":"9l","k":1360,"e":-4.32},{"b":"9l","k":1392,"e":-4.26},
{"b":"9m","k":1240.5,"e":-4.575},{"b":"9m","k":1320,"e":-4.454},{"b":"9m","k":1392,"e":-4.41},
{"b":"9n","k":1240.5,"e":-4.926},{"b":"9n","k":1287,"e":-4.817},{"b":"9n","k":1320,"e":-4.671},{"b":"9n","k":1360,"e":-4.526},{"b":"9n","k":1392,"e":-4.465},
{"b":"9o","k":1240.5,"e":-4.962},{"b":"9o","k":1287,"e":-4.962},{"b":"9o","k":1337,"e":-4.72},{"b":"9o","k":1360,"e":-4.817},{"b":"9o","k":1380,"e":-5.01}
]
},
"layer": [
{
"data": {"name": "bands"},
"mark": {"type": "line", "color": "black", "strokeWidth": 1.6, "clip": true, "interpolate": "monotone"},
"encoding": {
"x": {"field": "k", "type": "quantitative", "scale": {"domain": [0, 1392], "nice": false, "zero": false},
"axis": {"orient": "bottom", "title": null, "values": [0, 137, 274, 467, 620, 758, 894, 1088, 1240, 1392],
"labelExpr": "datum.value == 0 ? 'Γ' : datum.value == 137 ? 'X' : datum.value == 274 ? 'M' : datum.value == 467 ? 'Γ' : datum.value == 620 ? 'Z' : datum.value == 758 ? 'R' : datum.value == 894 ? 'A' : datum.value == 1088 ? 'Z  X' : datum.value == 1240 ? 'R  M' : 'A'",
"grid": true, "gridColor": "#9a9a9a", "gridDash": [2, 4], "gridWidth": 1,
"domain": false, "ticks": true, "tickSize": -10, "tickColor": "black", "tickWidth": 1.5,
"labelFont": "Liberation Sans Narrow, DejaVu Sans Condensed, sans-serif", "labelFontSize": 21, "labelColor": "black", "labelPadding": 26, "labelFlush": false, "labelOverlap": false}},
"y": {"field": "e", "type": "quantitative", "scale": {"domain": [-5, 2], "nice": false, "zero": false},
"axis": {"orient": "left", "title": null, "values": [-5, -4, -3, -2, -1, 0, 1, 2],
"labelExpr": "(datum.value < 0 ? '-' : '') + abs(datum.value)",
"grid": false, "domain": false, "ticks": true, "tickSize": -10, "tickColor": "black", "tickWidth": 1.5,
"labelFont": "Liberation Sans Narrow, DejaVu Sans Condensed, sans-serif", "labelFontSize": 21, "labelColor": "black", "labelPadding": 28, "labelOverlap": false}},
"detail": {"field": "b"}
}
},
{
"data": {"values": [{"k": 0, "e": 0}, {"k": 1392, "e": 0}]},
"mark": {"type": "line", "color": "#56b4e9", "strokeWidth": 2},
"encoding": {
"x": {"field": "k", "type": "quantitative", "axis": {"orient": "top", "title": null, "values": [137, 274, 467, 620, 758, 894, 1088, 1240], "labels": false, "grid": false, "domain": false, "tickSize": -10, "tickColor": "black", "tickWidth": 1.5}},
"y": {"field": "e", "type": "quantitative", "axis": {"orient": "right", "title": null, "values": [-5, -4, -3, -2, -1, 0, 1, 2], "labels": false, "grid": false, "domain": false, "tickSize": -10, "tickColor": "black", "tickWidth": 1.5}}
}
}
],
"resolve": {"axis": {"x": "independent", "y": "independent"}}
}
